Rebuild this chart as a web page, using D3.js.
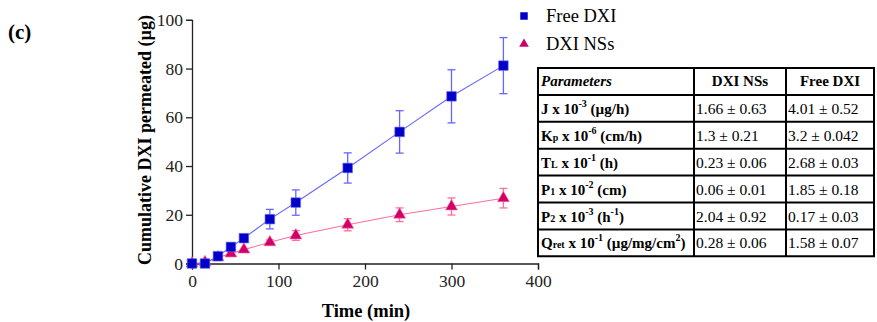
<!DOCTYPE html>
<html>
<head>
<meta charset="utf-8">
<script src="https://cdn.jsdelivr.net/npm/d3@7"></script>
<style>
  body { margin: 0; background: #fff; }
</style>
</head>
<body>
<svg width="877" height="322"></svg>
<script>
// data
var times = [0, 15, 30, 45, 60, 90, 120, 180, 240, 300, 360];
var freeVals = [0, 0, 3.0, 6.8, 10.4, 18.2, 25.0, 39.2, 54.0, 68.6, 81.2];
var freeErr = [0, 0, 0.5, 1.0, 1.5, 4.0, 5.2, 6.2, 8.7, 10.9, 11.5];
var nsVals = [0, 0.5, 2.5, 4.1, 5.7, 8.7, 11.5, 15.9, 20.0, 23.4, 26.8];
var nsErr = [0, 0, 0.3, 0.6, 0.7, 1.0, 2.0, 2.5, 2.8, 3.5, 4.0];
var xTicks = [0, 100, 200, 300, 400];
var yTicks = [0, 20, 40, 60, 80, 100];

var tableHead = ["Parameters", "DXI NSs", "Free DXI"];
var paramNames = [
  [["J x 10", ""], ["-3", "sup"], [" (\u00b5g/h)", ""]],
  [["K", ""], ["p", "sub"], [" x 10", ""], ["-6", "sup"], [" (cm/h)", ""]],
  [["T", ""], ["L", "sub"], [" x 10", ""], ["-1", "sup"], [" (h)", ""]],
  [["P", ""], ["1", "sub"], [" x 10", ""], ["-2", "sup"], [" (cm)", ""]],
  [["P", ""], ["2", "sub"], [" x 10", ""], ["-3", "sup"], [" (h", ""], ["-1", "sup"], [")", ""]],
  [["Q", ""], ["ret", "sub"], [" x 10", ""], ["-1", "sup"], [" (\u00b5g/mg/cm", ""], ["2", "sup"], [")", ""]]
];
var nsParams = ["1.66 \u00b1 0.63", "1.3 \u00b1 0.21", "0.23 \u00b1 0.06", "0.06 \u00b1 0.01", "2.04 \u00b1 0.92", "0.28 \u00b1 0.06"];
var freeParams = ["4.01 \u00b1 0.52", "3.2 \u00b1 0.042", "2.68 \u00b1 0.03", "1.85 \u00b1 0.18", "0.17 \u00b1 0.03", "1.58 \u00b1 0.07"];

var FONT = "'Liberation Serif', 'Times New Roman', serif";
var svg = d3.select("svg").style("font-family", FONT);

var x = d3.scaleLinear().domain([0, 400]).range([192, 538]);
var y = d3.scaleLinear().domain([0, 100]).range([263.5, 19.8]);

// axes
var xAxis = svg.append("g")
  .attr("transform", "translate(0," + y(0) + ")")
  .call(d3.axisBottom(x).tickValues(xTicks).tickSize(6).tickPadding(5));
var yAxis = svg.append("g")
  .attr("transform", "translate(" + x(0) + ",0)")
  .call(d3.axisLeft(y).tickValues(yTicks).tickSize(6).tickPadding(3));

[xAxis, yAxis].forEach(function (a) {
  a.attr("font-family", null).attr("font-size", null);
  a.select(".domain").attr("stroke", "#222").attr("stroke-width", 1.3);
  a.selectAll(".tick line").attr("stroke", "#222").attr("stroke-width", 1.3);
  a.selectAll(".tick text").attr("fill", "#222")
    .style("font-family", FONT).style("font-size", "17.5px");
});

svg.append("text")
  .attr("x", 366).attr("y", 317)
  .attr("text-anchor", "middle")
  .style("font-family", FONT)
  .attr("font-weight", "bold").attr("font-size", 18.5)
  .text("Time (min)");

svg.append("text")
  .attr("transform", "translate(151,140) rotate(-90)")
  .attr("text-anchor", "middle")
  .style("font-family", FONT)
  .attr("font-weight", "bold").attr("font-size", 18)
  .text("Cumulative DXI permeated (\u00b5g)");

svg.append("text")
  .attr("x", 8).attr("y", 39)
  .style("font-family", FONT)
  .attr("font-weight", "bold").attr("font-size", 21)
  .text("(c)");

// series
var series = [
  { name: "Free DXI", vals: freeVals, err: freeErr, mark: "#0000c8", line: "#6666ff", sym: d3.symbolSquare, size: 92 },
  { name: "DXI NSs", vals: nsVals, err: nsErr, mark: "#d0006a", line: "#ff6e9e", sym: d3.symbolTriangle, size: 62 }
];

var line = d3.line()
  .x(function (d) { return x(d[0]); })
  .y(function (d) { return y(d[1]); });

// draw NS first so free DXI sits on top
series.slice().reverse().forEach(function (s) {
  var pts = times.map(function (t, i) { return [t, s.vals[i], s.err[i]]; });
  var g = svg.append("g");

  g.append("path")
    .datum(pts)
    .attr("d", line)
    .attr("fill", "none")
    .attr("stroke", s.line)
    .attr("stroke-width", 1.1);

  var eb = g.selectAll(".eb").data(pts.filter(function (d) { return d[2] > 0.8; }))
    .enter().append("g");
  eb.append("line")
    .attr("x1", function (d) { return x(d[0]); })
    .attr("x2", function (d) { return x(d[0]); })
    .attr("y1", function (d) { return y(d[1] - d[2]); })
    .attr("y2", function (d) { return y(d[1] + d[2]); })
    .attr("stroke", s.line).attr("stroke-width", 1.3);
  [-1, 1].forEach(function (k) {
    eb.append("line")
      .attr("x1", function (d) { return x(d[0]) - 4; })
      .attr("x2", function (d) { return x(d[0]) + 4; })
      .attr("y1", function (d) { return y(d[1] + k * d[2]); })
      .attr("y2", function (d) { return y(d[1] + k * d[2]); })
      .attr("stroke", s.line).attr("stroke-width", 1.3);
  });

  g.selectAll(".pt").data(pts).enter().append("path")
    .attr("d", d3.symbol().type(s.sym).size(s.size))
    .attr("transform", function (d) { return "translate(" + x(d[0]) + "," + y(d[1]) + ")"; })
    .attr("fill", s.mark)
    .attr("stroke", s.line).attr("stroke-width", 0.6);
});

// legend
series.forEach(function (s, i) {
  var ly = 16 + i * 28;
  svg.append("path")
    .attr("d", d3.symbol().type(s.sym).size(i === 0 ? 56 : 40))
    .attr("transform", "translate(524," + ly + ")")
    .attr("fill", s.mark);
  svg.append("text")
    .attr("x", 546).attr("y", ly + 6)
    .style("font-family", FONT)
    .attr("font-size", 18.5)
    .text(s.name);
});

// parameter table
var colX = [538, 694, 786, 874];
var rowY = d3.range(8).map(function (i) { return 68 + i * 26.9; });
var tg = svg.append("g");

tg.selectAll(".hl").data(rowY).enter().append("line")
  .attr("x1", colX[0] - 1).attr("x2", colX[3] + 1)
  .attr("y1", function (d) { return d; }).attr("y2", function (d) { return d; })
  .attr("stroke", "#000").attr("stroke-width", 2);
tg.selectAll(".vl").data(colX).enter().append("line")
  .attr("x1", function (d) { return d; }).attr("x2", function (d) { return d; })
  .attr("y1", rowY[0]).attr("y2", rowY[7])
  .attr("stroke", "#000").attr("stroke-width", 2);

tg.append("text")
  .attr("x", colX[0] + 3).attr("y", rowY[0] + 18)
  .style("font-family", FONT)
  .attr("font-weight", "bold").attr("font-style", "italic").attr("font-size", 15)
  .text(tableHead[0]);
[1, 2].forEach(function (c) {
  tg.append("text")
    .attr("x", (colX[c] + colX[c + 1]) / 2).attr("y", rowY[0] + 18)
    .attr("text-anchor", "middle")
    .style("font-family", FONT)
    .attr("font-weight", "bold").attr("font-size", 15)
    .text(tableHead[c]);
});

paramNames.forEach(function (parts, r) {
  var t = tg.append("text")
    .attr("x", colX[0] + 3).attr("y", rowY[r + 1] + 19)
    .style("font-family", FONT)
    .attr("font-weight", "bold").attr("font-size", 15);
  var shift = 0;
  parts.forEach(function (p) {
    var target = p[1] === "sup" ? -7 : 0;
    var ts = t.append("tspan").attr("dy", target - shift).text(p[0]);
    shift = target;
    if (p[1] === "sup" || p[1] === "sub") ts.attr("font-size", 10);
  });
});

[nsParams, freeParams].forEach(function (vals, c) {
  tg.selectAll(".v" + c).data(vals).enter().append("text")
    .attr("x", colX[c + 1] + 2)
    .attr("y", function (d, i) { return rowY[i + 1] + 19; })
    .style("font-family", FONT)
    .attr("font-size", 15.5)
    .text(function (d) { return d; });
});
</script>
</body>
</html>
